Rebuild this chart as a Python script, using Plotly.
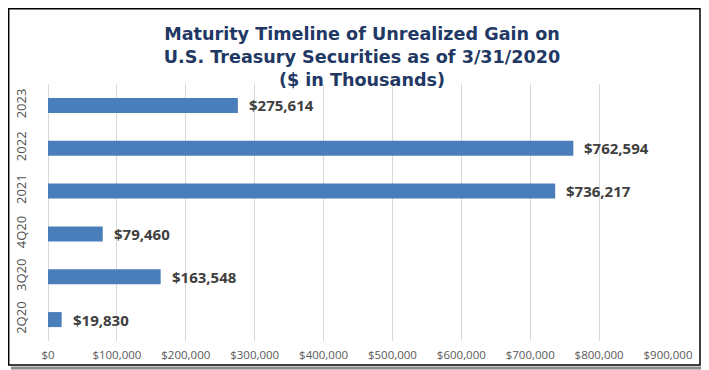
import plotly.graph_objects as go

categories = ["2Q20", "3Q20", "4Q20", "2021", "2022", "2023"]
values = [19830, 163548, 79460, 736217, 762594, 275614]
labels = ["$19,830", "$163,548", "$79,460", "$736,217", "$762,594", "$275,614"]
tick_vals = [0, 100000, 200000, 300000, 400000, 500000, 600000, 700000, 800000, 900000]
tick_text = ["$0", "$100,000", "$200,000", "$300,000", "$400,000", "$500,000",
             "$600,000", "$700,000", "$800,000", "$900,000"]

# page body has an 8px margin; lay out in page pixels and offset
OFF = 8
W, H = 709 - OFF, 370 - OFF
PL, PR, PT, PB = 48, 668, 84, 341  # plot area in page pixels
L, T = PL - OFF, PT - OFF
R, B = W - (PR - OFF), H - (PB - OFF)
pw, ph = W - L - R, H - T - B

def px_x(x):
    return (x - OFF - L) / pw

def px_y(y):
    return (H - B - (y - OFF)) / ph

fig = go.Figure()
fig.add_trace(go.Bar(
    y=categories, x=values, orientation="h",
    marker=dict(color="#4A7EBB", line=dict(width=0)),
    hoverinfo="skip",
))

for i, (v, t) in enumerate(zip(values, labels)):
    fig.add_annotation(x=v, y=i, text=t, showarrow=False, xanchor="left",
                       xshift=9, font=dict(family="Open Sans", size=15, color="#404040", weight="bold"),
                       xref="x", yref="y")

# frame with shadow
fig.add_shape(type="path", xref="paper", yref="paper",
              path=f"M {px_x(703)} {px_y(11)} L {px_x(703)} {px_y(368)} L {px_x(11)} {px_y(368)}",
              line=dict(color="#8C8C8C", width=3))
fig.add_shape(type="rect", xref="paper", yref="paper",
              x0=px_x(8.7), x1=px_x(700), y0=px_y(8.7), y1=px_y(365),
              line=dict(color="#000000", width=1.5))

fig.update_layout(
    width=W, height=H,
    margin=dict(l=L, r=R, t=T, b=B, autoexpand=False),
    paper_bgcolor="white", plot_bgcolor="white",
    showlegend=False,
    bargap=0.65,
    title=dict(
        text="Maturity Timeline of Unrealized Gain on<br>U.S. Treasury Securities as of 3/31/2020<br>($ in Thousands)",
        x=(362 - OFF) / W, xanchor="center", y=1 - (40 - OFF) / H, yanchor="middle",
        font=dict(family="DejaVu Sans", size=17.6, color="#1F3864", weight="bold"),
    ),
    xaxis=dict(
        range=[0, 900000], tickvals=tick_vals, ticktext=tick_text,
        showgrid=True, gridcolor="#D9D9D9", gridwidth=1,
        zeroline=True, zerolinecolor="#D9D9D9", zerolinewidth=1,
        showline=False, ticks="", automargin=False,
        tickfont=dict(family="Open Sans", size=11.5, color="#595959"),
        ticklabelstandoff=5,
    ),
    yaxis=dict(
        type="category", range=[-0.5, len(categories) - 0.5],
        categoryorder="array", categoryarray=categories,
        showgrid=False, zeroline=False, showline=False, ticks="", automargin=False,
        tickangle=-90,
        tickfont=dict(family="Open Sans", size=13, color="#505050"),
        ticklabelstandoff=18,
    ),
)

fig.write_html("out.html")
